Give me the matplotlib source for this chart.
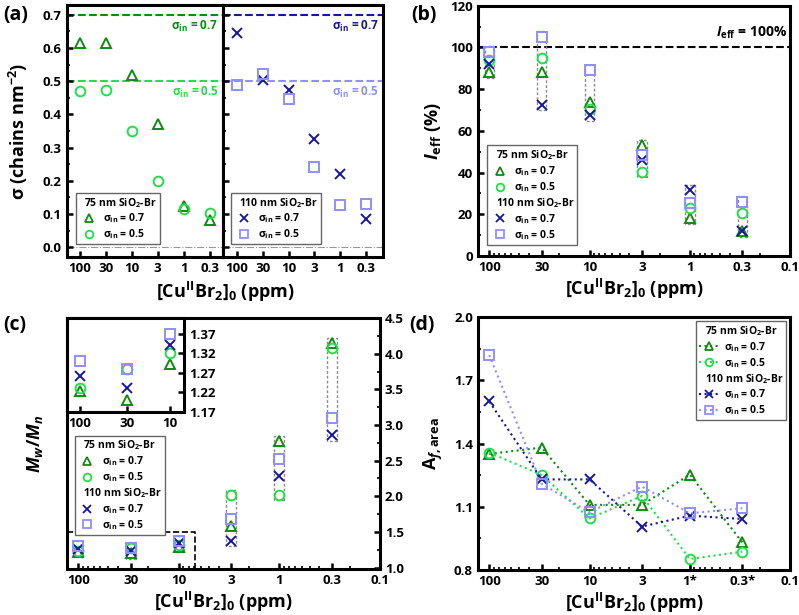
import numpy as np
import matplotlib.pyplot as plt
import matplotlib.transforms as mtransforms
from matplotlib.lines import Line2D
from matplotlib.patches import Rectangle
from matplotlib.ticker import (MultipleLocator, LogLocator, NullFormatter,
                               FixedLocator, FixedFormatter, FormatStrFormatter)

plt.rcParams['font.family'] = ['Open Sans', 'DejaVu Sans']
plt.rcParams['font.weight'] = 'bold'
plt.rcParams['axes.labelweight'] = 'bold'
plt.rcParams['mathtext.fontset'] = 'custom'
plt.rcParams['mathtext.rm'] = 'Open Sans:bold'
plt.rcParams['mathtext.it'] = 'Open Sans:italic:bold'
plt.rcParams['mathtext.bf'] = 'Open Sans:bold'
plt.rcParams['mathtext.default'] = 'regular'
plt.rcParams['xtick.direction'] = 'in'
plt.rcParams['ytick.direction'] = 'in'
plt.rcParams['xtick.labelsize'] = 9.5
plt.rcParams['ytick.labelsize'] = 9.5
plt.rcParams['axes.linewidth'] = 2.2
plt.rcParams['xtick.major.width'] = 1.8
plt.rcParams['ytick.major.width'] = 1.8
plt.rcParams['xtick.minor.width'] = 1.2
plt.rcParams['ytick.minor.width'] = 1.2
plt.rcParams['xtick.major.size'] = 4.5
plt.rcParams['ytick.major.size'] = 4.5
plt.rcParams['xtick.minor.size'] = 2.5
plt.rcParams['ytick.minor.size'] = 2.5
plt.rcParams['xtick.major.pad'] = 3.5
plt.rcParams['ytick.major.pad'] = 3.5

# ---- data ----
conc = [100, 30, 10, 3, 1, 0.3]
conc_labels = ['100', '30', '10', '3', '1', '0.3']
xticks_log = [100, 30, 10, 3, 1, 0.3, 0.1]
xlabels_log = ['100', '30', '10', '3', '1', '0.3', '0.1']
xlabels_d = ['100', '30', '10', '3', '1*', '0.3*', '0.1']

# series order: 75 nm s=0.7, 75 nm s=0.5, 110 nm s=0.7, 110 nm s=0.5
# (a) grafting density sigma (chains nm^-2)
sigma = [
    [0.615, 0.615, 0.52, 0.37, 0.123, 0.082],
    [0.47, 0.475, 0.35, 0.20, 0.115, 0.103],
    [0.645, 0.505, 0.473, 0.325, 0.22, 0.085],
    [0.49, 0.523, 0.445, 0.24, 0.128, 0.13],
]
# (b) initiation efficiency (%)
ieff = [
    [88, 88, 74, 53, 18, 12],
    [94, 95, 70.5, 40.5, 23, 20.5],
    [92, 72.5, 67.5, 46, 31.5, 12],
    [98, 105, 89, 48.5, 25.5, 26],
]
# (c) dispersity Mw/Mn
pdi = [
    [1.223, 1.20, 1.292, 1.584, 2.776, 4.145],
    [1.231, 1.278, 1.32, 2.019, 2.019, 4.084],
    [1.261, 1.231, 1.342, 1.374, 2.28, 2.855],
    [1.30, 1.28, 1.37, 1.678, 2.528, 3.103],
]
# (d) A_f,area
afarea = [
    [1.351, 1.381, 1.109, 1.109, 1.253, 0.931],
    [1.357, 1.251, 1.045, 1.151, 0.852, 0.887],
    [1.60, 1.23, 1.23, 1.006, 1.058, 1.042],
    [1.82, 1.209, 1.074, 1.196, 1.069, 1.093],
]
sigma_in = [0.7, 0.5]
d_yticks = [0.8, 1.1, 1.4, 1.7, 2.0]
inset_yticks = [1.17, 1.22, 1.27, 1.32, 1.37]

markers = ['^', 'o', 'x', 's']
colors = ['#108a10', '#1fe04a', '#16169e', '#8f8fff']
sig_labels = ['σ$_{in}$ = 0.7', 'σ$_{in}$ = 0.5', 'σ$_{in}$ = 0.7', 'σ$_{in}$ = 0.5']
headers = ['75 nm SiO$_2$-Br', '110 nm SiO$_2$-Br']
xlab = '[Cu$^{II}$Br$_2$]$_0$ (ppm)'


def plot_series(ax, x, ys, idx, ls='none'):
    for i in idx:
        ax.plot(x, ys[i], linestyle=ls, lw=1.5, marker=markers[i], ms=7,
                mfc='none', mec=colors[i], mew=1.4, color=colors[i], zorder=3)


def add_legend(ax, groups, lines=False, **kw):
    handles = []
    for g in groups:
        handles.append(Line2D([], [], linestyle='none', label=headers[g]))
        for i in (2 * g, 2 * g + 1):
            handles.append(Line2D([], [], linestyle=':' if lines else 'none', lw=1.5,
                                  marker=markers[i], ms=5.5, mfc='none', mec=colors[i],
                                  mew=1.3, color=colors[i], label=sig_labels[i]))
    leg = ax.legend(handles=handles, fancybox=False, edgecolor='#666666', framealpha=1,
                    fontsize=7.5, handlelength=1.9 if lines else 1.8, handletextpad=0.5,
                    labelspacing=0.2, borderpad=0.3, borderaxespad=0, **kw)
    leg.get_frame().set_linewidth(1.0)
    # headers without handle space
    for col in leg._legend_handle_box.get_children():
        for item in col.get_children():
            da, ta = item.get_children()
            if 'SiO' in ta.get_text():
                da.width = 0
    return leg


def setup_log_x(ax, labels):
    ax.set_xscale('log')
    ax.set_xlim(130, 0.1)
    ax.xaxis.set_major_locator(FixedLocator(xticks_log))
    ax.xaxis.set_major_formatter(FixedFormatter(labels))
    ax.xaxis.set_minor_locator(LogLocator(base=10, subs=np.arange(2, 10), numticks=30))
    ax.xaxis.set_minor_formatter(NullFormatter())


def group_boxes(ax, x, ys, pad, hw=0.05):
    arr = np.array(ys)
    for j, xv in enumerate(x):
        lo, hi = arr[:, j].min() - pad, arr[:, j].max() + pad
        x0, x1 = xv / 10 ** hw, xv * 10 ** hw
        ax.add_patch(Rectangle((x0, lo), x1 - x0, hi - lo, fill=False, ec='#8a8a8a',
                               ls=(0, (2, 1.5)), lw=1.0, zorder=2))


fig = plt.figure(figsize=(7.99, 6.15), dpi=100)

# ---------------- (a) ----------------
ax_a1 = fig.add_axes([0.0835, 0.582, 0.195, 0.41])
ax_a2 = fig.add_axes([0.2785, 0.582, 0.2009, 0.41])
pos = np.arange(len(conc))
plot_series(ax_a1, pos, sigma, [0, 1])
plot_series(ax_a2, pos, sigma, [2, 3])
line_cols = [(colors[0], colors[1]), (colors[2], colors[3])]
for ax, lc in zip([ax_a1, ax_a2], line_cols):
    ax.set_ylim(-0.03, 0.73)
    ax.set_xticks(pos)
    ax.set_xticklabels(conc_labels)
    ax.yaxis.set_major_locator(MultipleLocator(0.1))
    ax.yaxis.set_minor_locator(MultipleLocator(0.05))
    ax.axhline(0.0, color='#999999', ls='-.', lw=0.8, zorder=1)
    tr = mtransforms.blended_transform_factory(ax.transAxes, ax.transData)
    for s, c in zip(sigma_in, lc):
        ax.axhline(s, color=c, ls='--', lw=1.5, zorder=1)
        ax.text(0.975, s - 0.012, 'σ$_{in}$ = %.1f' % s, color=c, fontsize=8.5,
                ha='right', va='top', transform=tr)
ax_a1.set_xlim(-0.5, 5.5)
ax_a2.set_xlim(-0.55, 5.65)
ax_a1.yaxis.set_major_formatter(FormatStrFormatter('%.1f'))
ax_a2.tick_params(axis='y', labelleft=False)
ax_a1.set_ylabel('σ (chains nm$^{-2}$)', fontsize=13)
ax_a1.yaxis.set_label_coords(-0.235, 0.5)
fig.text(0.2816, 0.525, xlab, fontsize=13, ha='center', va='center')
add_legend(ax_a1, [0], loc='lower left', bbox_to_anchor=(0.06, 0.05))
add_legend(ax_a2, [1], loc='lower left', bbox_to_anchor=(0.053, 0.05))

# ---------------- (b) ----------------
ax_b = fig.add_axes([0.598, 0.5837, 0.391, 0.407])
setup_log_x(ax_b, xlabels_log)
group_boxes(ax_b, conc, ieff, 2.7, hw=0.047)
plot_series(ax_b, conc, ieff, [0, 1, 2, 3])
ax_b.set_ylim(0, 120)
ax_b.yaxis.set_major_locator(MultipleLocator(20))
ax_b.yaxis.set_minor_locator(MultipleLocator(10))
ax_b.axhline(100, color='black', ls='--', lw=1.5, zorder=1)
trb = mtransforms.blended_transform_factory(ax_b.transAxes, ax_b.transData)
ax_b.text(0.99, 103, '$\\mathit{I}_{eff}$ = 100%', fontsize=10, ha='right', va='bottom',
          transform=trb)
ax_b.set_ylabel('$\\mathit{I}_{eff}$ (%)', fontsize=13)
ax_b.yaxis.set_label_coords(-0.111, 0.5)
ax_b.set_xlabel(xlab, fontsize=13, labelpad=2)
add_legend(ax_b, [0, 1], loc='lower left', bbox_to_anchor=(0.03, 0.045))

# ---------------- (c) ----------------
ax_c = fig.add_axes([0.0835, 0.0748, 0.392, 0.408])
setup_log_x(ax_c, xlabels_log)
group_boxes(ax_c, conc, pdi, 0.075)
plot_series(ax_c, conc, pdi, [0, 1, 2, 3])
ax_c.set_ylim(0.98, 4.5)
ax_c.yaxis.set_major_locator(MultipleLocator(0.5))
ax_c.yaxis.set_minor_locator(MultipleLocator(0.25))
ax_c.yaxis.set_major_formatter(FormatStrFormatter('%.1f'))
ax_c.yaxis.tick_right()
ax_c.yaxis.set_ticks_position('right')
ax_c.yaxis.set_label_position('left')
ax_c.set_ylabel('$\\mathit{M}_{\\mathit{w}}$/$\\mathit{M}_{\\mathit{n}}$', fontsize=13)
ax_c.yaxis.set_label_coords(-0.069, 0.5)
ax_c.set_xlabel(xlab, fontsize=13, labelpad=2)
inset_xlim = (140, 6.9)
inset_ylim = (1.168, 1.41)
ax_c.plot([130, inset_xlim[1], inset_xlim[1]], [1.5, 1.5, 0.98], color='black',
          ls='--', lw=1.2, zorder=2)
add_legend(ax_c, [0, 1], loc='upper left', bbox_to_anchor=(0.026, 0.532))

ax_in = fig.add_axes([0.0835, 0.3296, 0.147, 0.1533])
ax_in.set_xscale('log')
ax_in.set_xlim(*inset_xlim)
ax_in.set_ylim(*inset_ylim)
plot_series(ax_in, conc[:3], [s[:3] for s in pdi], [0, 1, 2, 3])
ax_in.xaxis.set_major_locator(FixedLocator(conc[:3]))
ax_in.xaxis.set_major_formatter(FixedFormatter(conc_labels[:3]))
ax_in.xaxis.set_minor_locator(FixedLocator([]))
ax_in.set_yticks(inset_yticks)
ax_in.yaxis.set_major_formatter(FormatStrFormatter('%.2f'))
ax_in.yaxis.tick_right()
ax_in.tick_params(axis='both', labelsize=9.5)

# ---------------- (d) ----------------
ax_d = fig.add_axes([0.598, 0.0732, 0.391, 0.411])
setup_log_x(ax_d, xlabels_d)
plot_series(ax_d, conc, afarea, [0, 1, 2, 3], ls=':')
ax_d.set_ylim(0.8, 2.0)
ax_d.yaxis.set_major_locator(FixedLocator(d_yticks))
ax_d.yaxis.set_minor_locator(FixedLocator(np.array(d_yticks[:-1]) + 0.15))
ax_d.yaxis.set_major_formatter(FormatStrFormatter('%.1f'))
ax_d.set_ylabel('A$_{\\mathit{f}\\mathrm{,area}}$', fontsize=13)
ax_d.yaxis.set_label_coords(-0.105, 0.5)
ax_d.set_xlabel(xlab, fontsize=13, labelpad=2)
add_legend(ax_d, [0, 1], lines=True, loc='upper right', bbox_to_anchor=(0.988, 0.985))

# panel labels
for lbl, x, y in [('(a)', 0.004, 0.976), ('(b)', 0.515, 0.976),
                  ('(c)', 0.004, 0.471), ('(d)', 0.512, 0.471)]:
    fig.text(x, y, lbl, fontsize=14, ha='left', va='center')

fig.savefig('out.png', dpi=100)
